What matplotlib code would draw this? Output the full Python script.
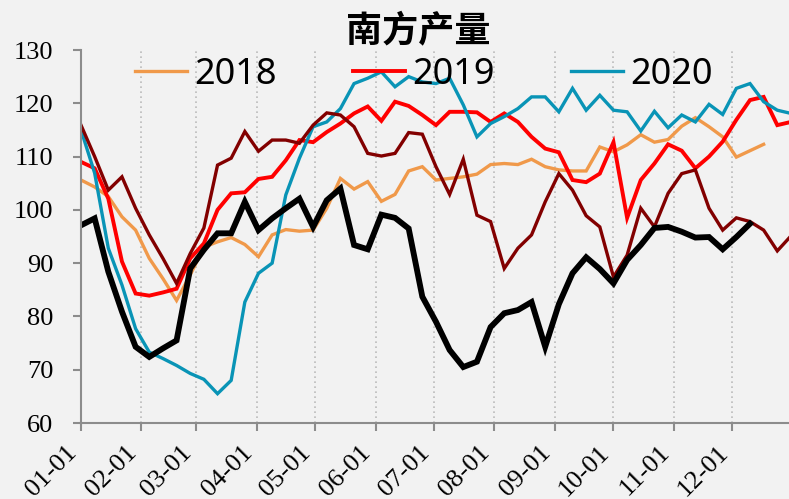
import matplotlib

matplotlib.use("Agg")
import matplotlib.dates as mdates
import matplotlib.pyplot as plt
import pandas as pd

# weekly southern output index, one list per year (first week starts 01-01)
y2018 = [105.6, 104.3, 102.5, 98.7, 96.2, 90.9, 87.1, 83.0, 87.8, 93.0,
         94.0, 94.8, 93.5, 91.2, 95.3, 96.3, 96.0, 96.2, 100.3, 105.9,
         103.9, 105.3, 101.6, 102.9, 107.3, 108.1, 105.6, 105.9, 106.2, 106.7,
         108.5, 108.7, 108.5, 109.5, 108.1, 107.5, 107.3, 107.3, 111.8, 110.9,
         112.2, 114.1, 112.7, 113.2, 115.7, 117.3, 115.6, 113.7, 109.9, 111.1,
         112.3]
y2019 = [109.0, 107.8, 102.1, 90.3, 84.3, 83.9, 84.5, 85.2, 90.9, 93.7,
         100.0, 103.1, 103.3, 105.8, 106.2, 109.3, 113.1, 112.7, 114.6, 116.2,
         118.1, 119.4, 116.7, 120.3, 119.5, 117.8, 115.9, 118.4, 118.4, 118.3,
         116.5, 118.1, 116.5, 113.7, 111.5, 110.8, 105.6, 105.2, 106.8, 112.7,
         98.5, 105.6, 108.7, 112.3, 111.1, 107.8, 110.0, 112.8, 116.9, 120.6,
         121.2, 115.9, 116.5]
y2020 = [115.0, 106.9, 92.8, 85.9, 77.7, 73.3, 72.1, 70.8, 69.3, 68.2,
         65.5, 68.0, 82.7, 88.1, 90.0, 102.8, 109.7, 115.6, 116.5, 119.0,
         123.7, 124.7, 125.9, 123.1, 125.0, 124.0, 123.7, 124.7, 119.7, 113.7,
         116.2, 117.5, 119.0, 121.2, 121.2, 118.4, 122.8, 118.7, 121.5, 118.7,
         118.4, 114.8, 118.5, 115.4, 117.8, 116.5, 119.8, 117.9, 122.8, 123.7,
         120.3, 118.7, 118.1]
y2021 = [115.9, 110.0, 103.7, 106.2, 100.3, 95.3, 90.9, 86.2, 91.8, 96.6,
         108.4, 109.7, 114.7, 111.0, 113.1, 113.1, 112.5, 115.9, 118.2, 117.8,
         115.6, 110.6, 110.1, 110.6, 114.5, 114.2, 108.1, 102.9, 109.5, 99.0,
         97.8, 89.0, 92.8, 95.3, 101.5, 106.8, 103.7, 98.9, 96.8, 87.4,
         91.5, 100.3, 96.8, 103.1, 106.8, 107.5, 100.3, 96.2, 98.5, 97.8,
         96.2, 92.3, 95.1]
y2022 = [97.1, 98.4, 88.4, 80.9, 74.3, 72.4, 74.0, 75.5, 89.0, 92.5,
         95.6, 95.6, 101.5, 96.2, 98.4, 100.3, 102.1, 96.8, 101.8, 104.0,
         93.4, 92.6, 99.1, 98.5, 96.5, 83.7, 79.0, 73.7, 70.5, 71.5,
         78.0, 80.6, 81.2, 82.7, 74.3, 82.3, 88.1, 91.1, 88.9, 86.2,
         90.6, 93.4, 96.6, 96.8, 95.9, 94.8, 94.9, 92.6, 94.9, 97.4]

series = [
    ("2018", y2018, "#F0994A", 2.4),
    ("2019", y2019, "#FF0000", 2.8),
    ("2020", y2020, "#0994B6", 2.4),
    ("2021", y2021, "#820000", 2.4),
    ("2022", y2022, "#000000", 4.2),
]

BG = "#F2F2F2"
AXIS = "#8C8C8C"

fig = plt.figure(figsize=(7.89, 4.99), dpi=100, facecolor=BG)
ax = fig.add_axes([81 / 789, 76 / 499, 708 / 789, 373 / 499], facecolor=BG)

handles = []
for name, vals, color, lw in series:
    # all years share one calendar axis so the seasonal curves line up
    dates = pd.date_range("2021-01-01", periods=len(vals), freq="7D")
    (ln,) = ax.plot(dates, vals, color=color, lw=lw, label=name, solid_joinstyle="miter")
    handles.append(ln)

ax.set_ylim(60, 130)
ax.set_yticks(range(60, 131, 10))
ax.set_xlim(pd.Timestamp("2021-01-01"), pd.Timestamp("2021-12-30"))
ax.xaxis.set_major_locator(mdates.MonthLocator())
ax.xaxis.set_major_formatter(mdates.DateFormatter("%m-%d"))

for side in ("top", "right"):
    ax.spines[side].set_visible(False)
for side in ("left", "bottom"):
    ax.spines[side].set_color(AXIS)
    ax.spines[side].set_linewidth(1.5)

ax.tick_params(axis="both", colors=AXIS, width=1.5, length=6, labelcolor="black",
               labelsize=19, labelfontfamily="Liberation Serif")
ax.tick_params(axis="y", pad=14)
ax.tick_params(axis="x", pad=7)
plt.setp(ax.get_xticklabels(), rotation=45, ha="right")

ax.xaxis.grid(True, linestyle=(0, (1, 2)), color="#BBBBBB", linewidth=1.2)
ax.set_axisbelow(True)

fig.text(418 / 789, 1 - 31 / 499, "南方产量", ha="center", va="center",
         fontsize=26, fontweight="bold", family=["Noto Sans CJK SC", "DejaVu Sans"])

fig.legend(handles=handles[:3], loc="center", bbox_to_anchor=(424 / 789, 1 - 75 / 499),
           ncol=3, frameon=False, handlelength=1.45, handletextpad=0.2,
           columnspacing=2.1, prop={"family": "Noto Sans", "size": 26})

fig.savefig("out.png", dpi=100, facecolor=BG)
